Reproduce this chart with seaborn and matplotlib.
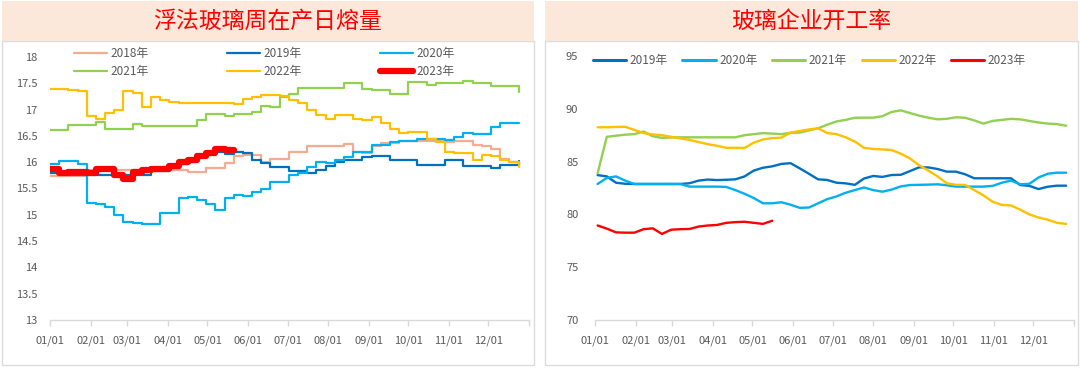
import numpy as np
import pandas as pd
import matplotlib
matplotlib.use("Agg")
import matplotlib.pyplot as plt
from matplotlib.patches import Rectangle
from matplotlib.lines import Line2D
import seaborn as sns

# ---------------- data ----------------
month_ticks = [0, 31, 59, 90, 120, 151, 181, 212, 243, 273, 304, 334, 365]
month_labels = ["01/01", "02/01", "03/01", "04/01", "05/01", "06/01",
                "07/01", "08/01", "09/01", "10/01", "11/01", "12/01", ""]

left_title = "浮法玻璃周在产日熔量"
right_title = "玻璃企业开工率"

left_yticks = [13, 13.5, 14, 14.5, 15, 15.5, 16, 16.5, 17, 17.5, 18]
left_ylabels = ["13", "13.5", "14", "14.5", "15", "15.5", "16", "16.5", "17", "17.5", "18"]
right_yticks = [70, 75, 80, 85, 90, 95]
right_ylabels = ["70", "75", "80", "85", "90", "95"]

year_labels = ["2018年", "2019年", "2020年", "2021年", "2022年", "2023年"]
year_colors = ["#F4AB8F", "#0070C0", "#00B0F0", "#92D050", "#FFC000", "#FF0000"]

# weekly values of the daily melting capacity (left chart)
melt_2018 = [15.73, 15.73, 15.73, 15.73, 15.86, 15.86, 15.86, 15.86, 15.86, 15.86,
             15.86, 15.86, 15.86, 15.86, 15.86, 15.81, 15.81, 15.89, 15.89, 15.98,
             16.12, 16.14, 16.14, 16.01, 16.07, 16.07, 16.20, 16.20, 16.30, 16.30,
             16.30, 16.30, 16.35, 16.20, 16.18, 16.30, 16.37, 16.37, 16.41, 16.41,
             16.41, 16.41, 16.41, 16.38, 16.41, 16.41, 16.33, 16.30, 16.26, 16.07,
             16.00, 15.95]
melt_2019 = [15.80, 15.78, 15.76, 15.76, 15.76, 15.76, 15.76, 15.76, 15.76, 15.76,
             15.76, 15.84, 15.84, 15.93, 15.96, 16.00, 16.10, 16.20, 16.20, 16.15,
             16.20, 16.18, 16.04, 15.99, 15.91, 15.91, 15.84, 15.84, 15.79, 15.85,
             15.93, 16.01, 16.04, 16.04, 16.10, 16.12, 16.12, 16.05, 16.05, 16.05,
             15.95, 15.95, 15.95, 16.04, 16.04, 15.93, 15.93, 15.93, 15.89, 15.95,
             15.95, 16.02]
melt_2020 = [15.97, 16.03, 16.03, 15.96, 15.23, 15.20, 15.15, 15.00, 14.87, 14.85,
             14.83, 14.83, 15.03, 15.03, 15.31, 15.34, 15.29, 15.20, 15.10, 15.31,
             15.37, 15.36, 15.44, 15.50, 15.63, 15.63, 15.76, 15.79, 15.91, 16.00,
             15.98, 16.05, 16.09, 16.20, 16.20, 16.33, 16.33, 16.39, 16.41, 16.41,
             16.45, 16.45, 16.45, 16.43, 16.48, 16.55, 16.53, 16.53, 16.67, 16.74,
             16.74, 16.74]
melt_2021 = [16.61, 16.61, 16.71, 16.71, 16.71, 16.76, 16.64, 16.64, 16.64, 16.72,
             16.69, 16.69, 16.69, 16.69, 16.69, 16.69, 16.80, 16.92, 16.92, 16.88,
             16.92, 16.92, 16.96, 17.06, 17.05, 17.24, 17.30, 17.42, 17.42, 17.42,
             17.42, 17.42, 17.50, 17.50, 17.40, 17.37, 17.37, 17.30, 17.30, 17.53,
             17.53, 17.47, 17.50, 17.50, 17.50, 17.55, 17.50, 17.50, 17.45, 17.45,
             17.45, 17.34]
melt_2022 = [17.40, 17.40, 17.37, 17.35, 16.88, 16.82, 16.93, 17.00, 17.36, 17.31,
             17.05, 17.24, 17.19, 17.15, 17.12, 17.12, 17.12, 17.12, 17.12, 17.12,
             17.10, 17.21, 17.24, 17.27, 17.28, 17.26, 17.18, 17.12, 16.99, 16.90,
             16.82, 16.90, 16.90, 16.82, 16.80, 16.85, 16.75, 16.64, 16.56, 16.58,
             16.58, 16.45, 16.38, 16.20, 16.17, 16.17, 16.05, 16.14, 16.11, 16.05,
             16.00, 15.90]
melt_2023 = [15.88, 15.80, 15.82, 15.82, 15.80, 15.88, 15.88, 15.75, 15.68, 15.82,
             15.85, 15.88, 15.87, 15.93, 16.00, 16.04, 16.12, 16.17, 16.26, 16.23,
             16.23]

# weekly operating rate (right chart)
rate_2019 = [83.72, 83.60, 83.00, 82.90, 82.88, 82.88, 82.88, 82.88, 82.88, 82.88,
             82.95, 83.20, 83.30, 83.25, 83.28, 83.32, 83.60, 84.15, 84.42, 84.55,
             84.78, 84.85, 84.36, 83.85, 83.32, 83.26, 83.00, 82.94, 82.80, 83.40,
             83.64, 83.55, 83.73, 83.75, 84.10, 84.46, 84.45, 84.30, 84.05, 84.05,
             83.80, 83.42, 83.42, 83.42, 83.42, 83.42, 82.78, 82.70, 82.40, 82.62,
             82.72, 82.72]
rate_2020 = [82.88, 83.45, 83.60, 83.20, 82.88, 82.88, 82.88, 82.88, 82.88, 82.88,
             82.63, 82.63, 82.63, 82.63, 82.60, 82.30, 81.95, 81.55, 81.05, 81.05,
             81.15, 80.92, 80.62, 80.65, 81.05, 81.45, 81.70, 82.05, 82.30, 82.55,
             82.30, 82.15, 82.35, 82.65, 82.78, 82.80, 82.82, 82.85, 82.76, 82.63,
             82.63, 82.63, 82.63, 82.70, 83.00, 83.20, 82.85, 82.90, 83.50, 83.85,
             83.95, 83.95]
rate_2021 = [83.90, 87.35, 87.45, 87.55, 87.60, 87.85, 87.40, 87.25, 87.28, 87.30,
             87.30, 87.30, 87.30, 87.30, 87.30, 87.30, 87.50, 87.60, 87.70, 87.65,
             87.60, 87.72, 87.75, 87.95, 88.15, 88.50, 88.80, 88.95, 89.15, 89.16,
             89.16, 89.30, 89.70, 89.85, 89.60, 89.35, 89.16, 89.00, 89.05, 89.20,
             89.15, 88.90, 88.60, 88.85, 88.95, 89.05, 89.00, 88.85, 88.70, 88.60,
             88.55, 88.40]
rate_2022 = [88.25, 88.25, 88.28, 88.30, 88.00, 87.70, 87.57, 87.50, 87.35, 87.20,
             87.05, 86.85, 86.65, 86.50, 86.30, 86.30, 86.30, 86.80, 87.10, 87.22,
             87.27, 87.74, 87.90, 88.05, 88.15, 87.70, 87.60, 87.30, 86.90, 86.30,
             86.20, 86.15, 86.10, 85.75, 85.30, 84.65, 84.15, 83.60, 82.95, 82.80,
             82.79, 82.30, 81.80, 81.20, 80.90, 80.85, 80.45, 80.00, 79.70, 79.50,
             79.20, 79.10]
rate_2023 = [78.95, 78.65, 78.30, 78.27, 78.27, 78.60, 78.68, 78.15, 78.55, 78.60,
             78.62, 78.85, 78.95, 79.00, 79.20, 79.27, 79.30, 79.20, 79.10, 79.40]

melt_series = [melt_2018, melt_2019, melt_2020, melt_2021, melt_2022, melt_2023]
rate_series = [rate_2019, rate_2020, rate_2021, rate_2022, rate_2023]

# ---------------- figure ----------------
sns.set_theme(style="white")
plt.rcParams["font.family"] = ["Noto Sans CJK SC", "DejaVu Sans"]

W, H = 1080, 368
fig = plt.figure(figsize=(W / 100, H / 100), dpi=100)
fig.patch.set_facecolor("white")


def frac_rect(x0, y0, x1, y1):
    """pixel box (top-left origin) -> figure fraction (left, bottom, w, h)"""
    return (x0 / W, 1 - y1 / H, (x1 - x0) / W, (y1 - y0) / H)


BAND = "#FCE8DA"
BORDER = "#DCDCDC"
TEXT = "#595959"

for (x0, x1) in [(2, 534), (545, 1078)]:
    l, b, w, h = frac_rect(x0, 41, x1, 365)
    fig.patches.append(Rectangle((l, b), w, h, transform=fig.transFigure,
                                 facecolor="white", edgecolor=BORDER, lw=1.0, zorder=-10))
    l, b, w, h = frac_rect(x0, 1, x1, 41)
    fig.patches.append(Rectangle((l, b), w, h, transform=fig.transFigure,
                                 facecolor=BAND, edgecolor="none", zorder=-10))

fig.text(268 / W, 1 - 21 / H, left_title, color="#FF0000", fontsize=16.5,
         ha="center", va="center")
fig.text(811 / W, 1 - 21 / H, right_title, color="#FF0000", fontsize=16.5,
         ha="center", va="center")

axL = fig.add_axes(frac_rect(50, 57, 529, 320))
axR = fig.add_axes(frac_rect(595, 56, 1074, 320))
axL.set_zorder(5)
axR.set_zorder(5)


def style_axis(ax, yticks, ylabels, ypad):
    ax.set_facecolor("none")
    ax.patch.set_alpha(0)
    for s in ["top", "right", "left"]:
        ax.spines[s].set_visible(False)
    ax.spines["bottom"].set_color("#D9D9D9")
    ax.spines["bottom"].set_linewidth(1.0)
    ax.set_xlim(0, 365)
    ax.set_xticks(month_ticks)
    ax.set_xticklabels(month_labels)
    ax.set_yticks(yticks)
    ax.set_yticklabels(ylabels)
    ax.set_ylim(yticks[0], yticks[-1])
    ax.tick_params(axis="x", length=4, width=1.0, color="#D9D9D9", direction="out",
                   labelsize=8, labelcolor=TEXT, pad=7, bottom=True)
    ax.tick_params(axis="y", length=0, labelsize=8, labelcolor=TEXT, pad=ypad)
    ax.set_xlabel("")
    ax.set_ylabel("")
    ax.grid(False)


# left chart: weekly step lines
handles_left = []
for lab, col, vals in zip(year_labels, year_colors, melt_series):
    days = np.arange(len(vals)) * 7
    df = pd.DataFrame({"day": days, "value": vals})
    lw = 4.5 if lab == "2023年" else 1.6
    sns.lineplot(data=df, x="day", y="value", ax=axL, color=col, linewidth=lw,
                 drawstyle="steps-post", legend=False, errorbar=None,
                 solid_capstyle="round", solid_joinstyle="round")
    handles_left.append(Line2D([], [], color=col, lw=lw, solid_capstyle="round"))

style_axis(axL, left_yticks, left_ylabels, 9)

order = [0, 3, 1, 4, 2, 5]
axL.legend([handles_left[i] for i in order], [year_labels[i] for i in order],
           ncol=3, frameon=False, loc="upper left",
           bbox_to_anchor=(74 / W, 1 - 47 / H), bbox_transform=fig.transFigure,
           fontsize=8.5, labelcolor=TEXT, handlelength=2.8, handletextpad=0.3,
           columnspacing=6.6, labelspacing=0.45, borderpad=0, borderaxespad=0)

# right chart: weekly lines
handles_right = []
for lab, col, vals in zip(year_labels[1:], year_colors[1:], rate_series):
    days = np.arange(len(vals)) * 7 + 2
    df = pd.DataFrame({"day": days, "value": vals})
    sns.lineplot(data=df, x="day", y="value", ax=axR, color=col, linewidth=1.7,
                 legend=False, errorbar=None, solid_joinstyle="round")
    handles_right.append(Line2D([], [], color=col, lw=2.2))

style_axis(axR, right_yticks, right_ylabels, 12)

axR.legend(handles_right, year_labels[1:], ncol=5, frameon=False, loc="upper left",
           bbox_to_anchor=(593 / W, 1 - 54 / H), bbox_transform=fig.transFigure,
           fontsize=8.5, labelcolor=TEXT, handlelength=2.8, handletextpad=0.3,
           columnspacing=1.25, borderpad=0, borderaxespad=0)

fig.savefig("out.png", dpi=100, facecolor=fig.get_facecolor())
